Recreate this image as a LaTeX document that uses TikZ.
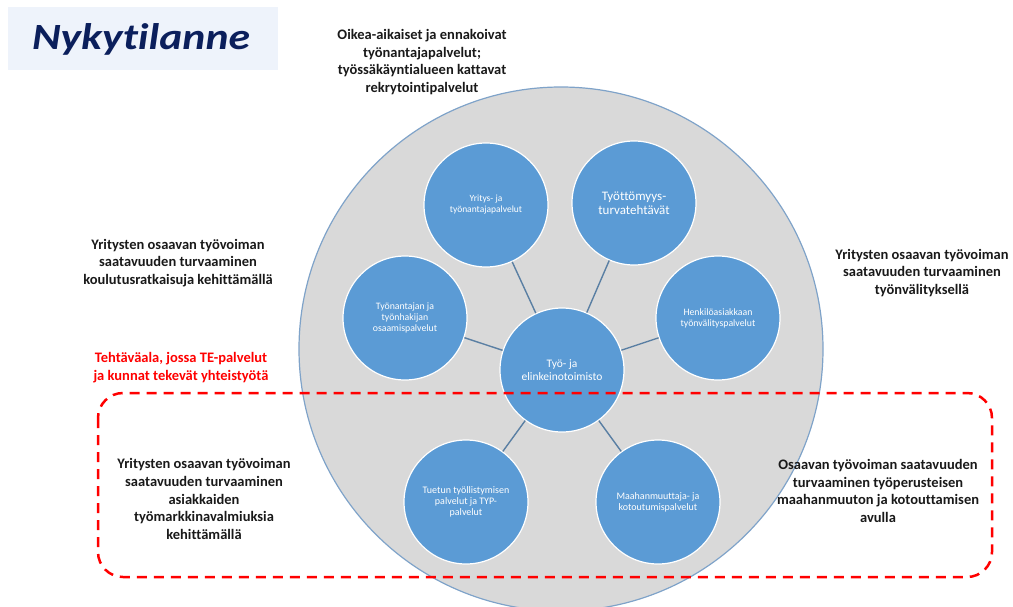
\documentclass[tikz,border=0pt]{standalone}
\usepackage{fontspec}
\setmainfont{Carlito}[Ligatures=NoCommon]
\usetikzlibrary{positioning,calc}
\definecolor{serviceblue}{HTML}{5B9BD5}
\definecolor{discgrey}{HTML}{D9D9D9}
\definecolor{discedge}{HTML}{7FA3C9}
\definecolor{spoke}{HTML}{5A7FA3}
\definecolor{titlebg}{HTML}{EEF3FB}
\definecolor{titlenavy}{HTML}{0B1F5C}
\definecolor{cooperation}{HTML}{FF0000}
\providecommand{\fsz}[2]{\fontsize{#1}{#2}\selectfont}

\begin{document}
\begin{tikzpicture}[x=1pt,y=-1pt,
    service/.style={circle,fill=serviceblue,draw=white,line width=1.2pt,minimum size=124pt,inner sep=0pt,text=white,align=center},
    goal/.style={align=center,text=black!90,font=\bfseries\fsz{14.5}{17.8}}]
  \useasboundingbox (0,0) rectangle (1013,606);
  \clip (0,0) rectangle (1013,606);

  % title
  \fill [titlebg] (8,7) rectangle (278,70);
  \node [anchor=base,xscale=1.18,text=titlenavy,font=\bfseries\itshape\fsz{37}{40}] (title) at (141,49) {Nykytilanne};

  % big disc
  \draw [fill=discgrey,draw=discedge,line width=1.2pt] (561,349) circle [radius=262];

  % services
  \node [service,font=\fsz{11.5}{13.5}] (office) at (562,370) {Työ- ja\\elinkeinotoimisto};
  \node [service,font=\fsz{9.5}{11}] (employer) at (486,205) {Yritys- ja\\työnantajapalvelut};
  \node [service,font=\fsz{13}{14.5}] (benefits) at (634,203) {Työttömyys-\\turvatehtävät};
  \node [service,font=\fsz{9.8}{11}] (skills) at (405,318) {Työnantajan ja\\työnhakijan\\osaamispalvelut};
  \node [service,font=\fsz{9.8}{11}] (placement) at (718,318) {Henkilöasiakkaan\\työnvälityspalvelut};
  \node [service,font=\fsz{10}{11}] (supported) at (466,502) {Tuetun työllistymisen\\palvelut ja TYP-\\palvelut};
  \node [service,font=\fsz{10}{11}] (immigrant) at (658,502) {Maahanmuuttaja- ja\\kotoutumispalvelut};

  \foreach \s in {employer,benefits,skills,placement,supported,immigrant}
    \draw [spoke,line width=1.4pt] (office) -- (\s);

  % goals around the disc
  \node [goal] (top-goal) at (422,62) {Oikea-aikaiset ja ennakoivat\\työnantajapalvelut;\\työssäkäyntialueen kattavat\\rekrytointipalvelut};
  \node [goal] (left-goal) at (178,263) {Yritysten osaavan työvoiman\\saatavuuden turvaaminen\\koulutusratkaisuja kehittämällä};
  \node [goal] (right-goal) at (922,273) {Yritysten osaavan työvoiman\\saatavuuden turvaaminen\\työnvälityksellä};
  \node [goal] (lower-left-goal) at (204,499) {Yritysten osaavan työvoiman\\saatavuuden turvaaminen\\asiakkaiden\\työmarkkinavalmiuksia\\kehittämällä};
  \node [goal] (lower-right-goal) at (878,491) {Osaavan työvoiman saatavuuden\\turvaaminen työperusteisen\\maahanmuuton ja kotouttamisen\\avulla};

  % shared area of TE services and municipalities
  \node [goal,text=cooperation] (shared) at (181,368) {Tehtäväala, jossa TE-palvelut\\ja kunnat tekevät yhteistyötä};
  \draw [cooperation,line width=2.5pt,dash pattern=on 10pt off 7pt,rounded corners=25pt]
    (98,393) rectangle (992,577);
\end{tikzpicture}
\end{document}
